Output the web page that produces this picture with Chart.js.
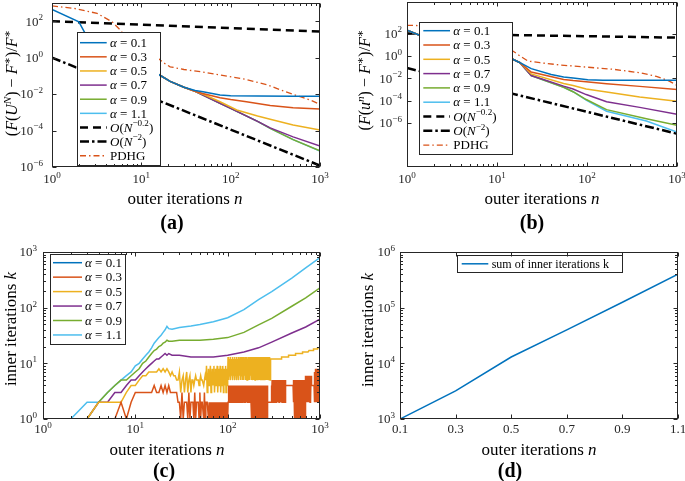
<!DOCTYPE html>
<html>
<head>
<meta charset="utf-8">
<script src="https://cdn.jsdelivr.net/npm/chart.js@4.4.1/dist/chart.umd.min.js"></script>
<style>
  html, body { margin: 0; padding: 0; background: #fff; overflow: hidden; }
  #wrap { position: relative; width: 685px; height: 481px; }
  canvas { position: absolute; left: 0; top: 0; }
</style>
</head>
<body>
<div id="wrap">
  <canvas id="ca" width="685" height="481"></canvas>
  <canvas id="cb" width="685" height="481"></canvas>
  <canvas id="cc" width="685" height="481"></canvas>
  <canvas id="cd" width="685" height="481"></canvas>
</div>
<script>
// ---------- data ----------
const alphaLabels = ['0.1', '0.3', '0.5', '0.7', '0.9', '1.1'];

// (a) relative error of U^N vs outer iterations
const aBlueN = [1, 2, 2.34, 3, 6, 10, 16, 21, 30, 40, 49, 76, 100, 200, 500, 1000];
const aBlue = [447, 93, 22.4, 6.3, 1.0, 0.32, 0.112, 0.050, 0.024, 0.0158, 0.0135, 0.0089, 0.0081, 0.0078, 0.0076, 0.0076];
const aRedN = [3, 6, 10, 16, 21, 30, 40, 50, 76, 100, 150, 277, 500, 1000];
const aRed = [6.3, 1.0, 0.32, 0.112, 0.050, 0.024, 0.0141, 0.0105, 0.0063, 0.0050, 0.0038, 0.0024, 0.0018, 0.0015];
const aYellowN = [3, 6, 10, 16, 21, 30, 40, 50, 76, 117, 200, 277, 500, 1000];
const aYellow = [6.3, 1.0, 0.32, 0.112, 0.050, 0.024, 0.0141, 0.0095, 0.0038, 0.00135, 6.3e-4, 4.2e-4, 2.0e-4, 1.07e-4];
const aLateN = [3, 6, 10, 16, 21, 30, 40, 76, 100, 200, 277, 500, 1000];
const aPurple = [6.3, 1.0, 0.32, 0.112, 0.050, 0.024, 0.0141, 0.00316, 0.00166, 3.16e-4, 1.41e-4, 4.5e-5, 1.41e-5];
const aGreen = [6.3, 1.0, 0.32, 0.112, 0.050, 0.024, 0.0141, 0.00316, 0.00166, 3.16e-4, 1.32e-4, 3.2e-5, 7.7e-6];
const aCyan = [6.3, 1.0, 0.32, 0.112, 0.050, 0.024, 0.0141, 0.00316, 0.00166, 3.16e-4, 1.32e-4, 3.16e-5, 7.6e-6];
const aRateN = [1, 1000];
const aSlow = [100, 27];
const aFast = [1, 1.2e-6];
const aPdhgN = [1, 1.75, 3.2, 4.7, 5.8, 6.9, 9, 12, 15.5, 18, 21, 30, 45.6, 76, 150, 260, 400, 600, 800, 1000];
const aPdhg = [692, 513, 269, 93.3, 33.1, 11.5, 3.16, 1.58, 0.89, 0.50, 0.316, 0.224, 0.17, 0.112, 0.063, 0.0316, 0.0141, 0.0072, 0.0045, 0.00275];

// (b) relative error of u^n vs outer iterations
const bBlueN = [1, 1.38, 2, 4, 8, 15, 18, 24, 40, 55, 70, 102, 150, 1000];
const bBlue = [200, 71, 15.8, 3.16, 1.26, 0.5, 0.25, 0.074, 0.0224, 0.0132, 0.0107, 0.0076, 0.0066, 0.0066];
const bRedN = [1, 1.38, 2, 4, 8, 15, 18, 24, 55, 70, 165, 385, 1000];
const bRed = [200, 71, 15.8, 3.16, 1.26, 0.5, 0.25, 0.036, 0.0079, 0.0063, 0.0033, 0.0019, 0.0010];
const bYellowN = [1, 1.38, 2, 4, 8, 15, 18, 24, 55, 70, 98, 165, 385, 1000];
const bYellow = [200, 71, 15.8, 3.16, 1.26, 0.5, 0.25, 0.025, 0.0035, 0.0023, 0.00112, 5.9e-4, 2.1e-4, 8.7e-5];
const bPurpleN = [1, 1.38, 2, 4, 8, 15, 18, 24, 55, 70, 98, 165, 385, 1000];
const bPurple = [200, 71, 15.8, 3.16, 1.26, 0.5, 0.25, 0.0178, 0.0020, 0.00112, 3.5e-4, 7.9e-5, 2.5e-5, 6.0e-6];
const bFastN = [1, 1.38, 2, 4, 8, 15, 18, 24, 55, 70, 98, 165, 457, 1000];
const bGreen = [200, 71, 15.8, 3.16, 1.26, 0.5, 0.25, 0.0178, 0.00158, 6.3e-4, 1.26e-4, 1.58e-5, 2.45e-6, 6.2e-7];
const bCyan = [200, 71, 15.8, 3.16, 1.26, 0.5, 0.25, 0.0178, 0.00158, 6.3e-4, 1.12e-4, 1.12e-5, 1.5e-6, 1.55e-7];
const bRateN = [1, 1000];
const bSlow = [105, 44];
const bFast = [0.083, 1.1e-7];
const bPdhgN = [1, 2, 4, 8, 12, 15, 18, 22, 30, 50, 100, 200, 385, 590, 800, 1000];
const bPdhg = [550, 500, 200, 31.6, 6.3, 2.8, 1.0, 0.355, 0.25, 0.158, 0.1, 0.063, 0.0316, 0.0151, 0.0063, 0.00234];

// (c) inner iterations per outer iteration
const cN = [1, 2, 3, 4, 5, 6, 7, 8, 9, 10, 11, 12, 13, 14, 15, 16, 17, 18, 19, 20, 21, 22, 23, 25, 30, 40, 50, 70, 100, 150, 216, 300, 495, 700, 1000];
const cBlueN = [1, 1000];
const cBlue = [1, 1];
const cPurple = [1, 1, 1, 2, 2, 3, 3, 4, 5, 5, 6, 7, 8, 9, 10, 11, 12, 12, 13, 14, 15, 14, 15, 14, 14, 13, 13, 13, 14, 16, 19, 24, 35, 45, 62];
const cGreen = [1, 1, 1, 2, 3, 4, 5, 5, 6, 7, 8, 10, 11, 13, 15, 17, 18, 20, 21, 23, 24, 26, 25, 25, 26, 26, 26, 27, 29, 36, 49, 64, 106, 150, 226];
const cCyan = [1, 1, 2, 2, 3, 4, 5, 6, 7, 9, 10, 12, 14, 16, 19, 23, 26, 29, 32, 36, 40, 46, 42, 41, 44, 47, 50, 56, 66, 92, 140, 195, 340, 520, 790];
// integer counts that flicker: [first n, last n, repeating values]
const cRedRuns = [
  [1, 6, [1]], [7, 7, [2]], [8, 8, [1]], [9, 9, [2]], [10, 15, [3]], [16, 16, [4]], [17, 18, [3]],
  [19, 19, [4]], [20, 20, [3]], [21, 21, [4]], [22, 22, [3]], [23, 23, [4]], [24, 28, [3]], [29, 29, [2]],
  [30, 60, [2, 1, 3, 1, 2, 2]], [61, 100, [2, 1]], [101, 180, [2, 4, 2, 3, 4, 2]], [181, 270, [2, 1, 2, 4]],
  [271, 300, [2]], [301, 420, [4, 2, 5, 2]], [421, 520, [4]], [521, 700, [2, 5, 4, 1, 4]],
  [701, 800, [4, 2, 6]], [801, 880, [4]], [881, 1000, [2, 7, 4, 8, 3, 5]]
];
const cYellowRuns = [
  [1, 3, [1]], [4, 7, [2]], [8, 8, [3]], [9, 10, [4]], [11, 11, [5]], [12, 13, [6]], [14, 17, [7]],
  [18, 18, [8]], [19, 19, [7]], [20, 20, [8]], [21, 21, [7]], [22, 22, [8]], [23, 23, [7]], [24, 24, [6]],
  [25, 25, [7]], [26, 27, [6]], [28, 29, [5]],
  [30, 40, [7, 3, 5, 6, 3, 5]], [41, 58, [5, 5, 4, 5, 6, 5]], [59, 100, [9, 3, 5, 8, 4, 6]],
  [101, 290, [13, 5, 11, 6, 12, 7]],
  [291, 380, [12]], [381, 460, [13]], [461, 540, [14]], [541, 640, [15]], [641, 760, [16]],
  [761, 860, [17]], [861, 940, [18]], [941, 1000, [19]]
];

// (d) total inner iterations per alpha
const dAlpha = [0.1, 0.3, 0.5, 0.7, 0.9, 1.1];
const dSum = [1000, 3200, 13000, 40000, 125000, 400000];

// ticks
const nTicks = [1, 10, 100, 1000];
const nTickExp = ['0', '1', '2', '3'];
const errTicks = [1e2, 1, 1e-2, 1e-4, 1e-6];
const errTickExp = ['2', '0', '\u22122', '\u22124', '\u22126'];
const kTicks = [1, 10, 100, 1000];
const kTickExp = ['0', '1', '2', '3'];
const dXTicks = [0.1, 0.3, 0.5, 0.7, 0.9, 1.1];
const dXText = ['0.1', '0.3', '0.5', '0.7', '0.9', '1.1'];
const dYTicks = [1e3, 1e4, 1e5, 1e6];
const dYExp = ['3', '4', '5', '6'];

// ---------- drawing helpers ----------
const SERIF = '"Liberation Serif", "DejaVu Serif", serif';
const INK = '#262626';
const COL = { blue: '#0072BD', red: '#D95319', yellow: '#EDB120', purple: '#7E2F8E', green: '#77AC30', cyan: '#4DBEEE' };
const DASH = [8, 5];
const DASHDOT = [9, 3, 2.5, 3];
const PDHGDASH = [6, 3, 1.5, 3];

function drawRich(ctx, parts, x, y, size, align) {
  const items = parts.map(([t, s]) => {
    const sup = s.indexOf('sup') >= 0;
    const sz = sup ? size * 0.7 : size;
    const font = (s[0] === 'i' ? 'italic ' : '') + (s === 'b' ? 'bold ' : '') + sz + 'px ' + SERIF;
    ctx.font = font;
    return { t, font, w: ctx.measureText(t).width, dy: sup ? -size * 0.42 : 0 };
  });
  const total = items.reduce((acc, p) => acc + p.w, 0);
  let cx = align === 'center' ? x - total / 2 : align === 'right' ? x - total : x;
  ctx.textAlign = 'left';
  ctx.textBaseline = 'alphabetic';
  items.forEach(p => { ctx.font = p.font; ctx.fillText(p.t, cx, y + p.dy); cx += p.w; });
}

function logMinor(min, max) {
  const out = [];
  for (let d = Math.floor(Math.log10(min)); d <= Math.ceil(Math.log10(max)); d++) {
    for (let m = 2; m <= 9; m++) {
      const v = m * Math.pow(10, d);
      if (v > min && v < max) out.push(v);
    }
  }
  return out;
}

const pow10 = exps => exps.map(e => [['10', ''], [e, 'sup']]);
const alphaParts = alphaLabels.map(a => [['\u03b1', 'i'], [' = ' + a, '']]);
const slowParts = [['O', 'i'], ['(', ''], ['N', 'i'], ['\u22120.2', 'sup'], [')', '']];
const fastParts = [['O', 'i'], ['(', ''], ['N', 'i'], ['\u22122', 'sup'], [')', '']];
const outerTitle = [['outer iterations ', ''], ['n', 'i']];
const innerTitle = [['inner iterations ', ''], ['k', 'i']];

function drawLegend(ctx, chart, lg) {
  const [x, y, w, h] = lg.box;
  ctx.fillStyle = '#fff';
  ctx.fillRect(x, y, w, h);
  ctx.strokeStyle = INK;
  ctx.lineWidth = 1;
  ctx.setLineDash([]);
  ctx.strokeRect(Math.round(x) + 0.5, Math.round(y) + 0.5, Math.round(w), Math.round(h));
  lg.labels.forEach((parts, i) => {
    const ds = chart.data.datasets[i];
    const yy = lg.y0 + i * lg.dy;
    ctx.save();
    ctx.strokeStyle = ds.borderColor;
    ctx.lineWidth = ds.borderWidth;
    ctx.setLineDash(ds.borderDash || []);
    ctx.beginPath();
    ctx.moveTo(lg.x0, yy);
    ctx.lineTo(lg.x1, yy);
    ctx.stroke();
    ctx.restore();
    ctx.fillStyle = '#000';
    drawRich(ctx, parts, lg.tx, yy + lg.size * 0.33, lg.size, 'left');
  });
}

const panels = {
  ca: {
    xMajor: nTicks, xMinor: logMinor(1, 1000), yMajor: errTicks, yMinor: [],
    xLabels: nTicks.map((v, i) => [v, pow10(nTickExp)[i]]), xDy: 16,
    yLabels: errTicks.map((v, i) => [v, pow10(errTickExp)[i]]), yGap: 9,
    xTitle: { parts: outerTitle, x: 185, y: 204 },
    yTitle: { parts: [['(', ''], ['F', 'i'], ['(', ''], ['U', 'i'], ['N', 'isup'], [')', ''], [' \u2212 ', ''], ['F', 'i'], ['\u2217', 'sup'], [')/', ''], ['F', 'i'], ['\u2217', 'sup']], x: 12, y: 83, size: 16 },
    tag: { text: '(a)', x: 172, y: 229 },
    legend: { box: [76.5, 32, 82.5, 133], x0: 80, x1: 106.7, tx: 110, y0: 42.7, dy: 14.13, size: 13,
      labels: alphaParts.concat([slowParts, fastParts, [['PDHG', '']]]) }
  },
  cb: {
    xMajor: nTicks, xMinor: logMinor(1, 1000), yMajor: errTicks, yMinor: [],
    xLabels: nTicks.map((v, i) => [v, pow10(nTickExp)[i]]), xDy: 16,
    yLabels: errTicks.map((v, i) => [v, pow10(errTickExp)[i]]), yGap: 5,
    xTitle: { parts: outerTitle, x: 542, y: 204 },
    yTitle: { parts: [['(', ''], ['F', 'i'], ['(', ''], ['u', 'i'], ['n', 'isup'], [')', ''], [' \u2212 ', ''], ['F', 'i'], ['\u2217', 'sup'], [')/', ''], ['F', 'i'], ['\u2217', 'sup']], x: 365, y: 80, size: 16 },
    tag: { text: '(b)', x: 532, y: 229 },
    legend: { box: [419.3, 22.3, 93.4, 132], x0: 423.3, x1: 450, tx: 453.3, y0: 30.7, dy: 14.3, size: 13,
      labels: alphaParts.concat([slowParts, fastParts, [['PDHG', '']]]) }
  },
  cc: {
    xMajor: nTicks, xMinor: logMinor(1, 1000), yMajor: kTicks, yMinor: logMinor(1, 1000),
    xLabels: nTicks.map((v, i) => [v, pow10(nTickExp)[i]]), xDy: 14,
    yLabels: kTicks.map((v, i) => [v, pow10(kTickExp)[i]]), yGap: 6,
    xTitle: { parts: outerTitle, x: 167, y: 455 },
    yTitle: { parts: innerTitle, x: 10, y: 329, size: 17 },
    tag: { text: '(c)', x: 164, y: 477 },
    legend: { box: [50, 254, 75, 90], x0: 53, x1: 82, tx: 85, y0: 262.7, dy: 14.45, size: 13, labels: alphaParts }
  },
  cd: {
    xMajor: dXTicks, xMinor: [], yMajor: dYTicks, yMinor: logMinor(1e3, 1e6),
    xLabels: dXTicks.map((v, i) => [v, [[dXText[i], '']]]), xDy: 14,
    yLabels: dYTicks.map((v, i) => [v, pow10(dYExp)[i]]), yGap: 5,
    xTitle: { parts: outerTitle, x: 539, y: 455 },
    yTitle: { parts: innerTitle, x: 367, y: 330, size: 17 },
    tag: { text: '(d)', x: 510, y: 477 },
    legend: { box: [456.7, 255, 165, 17.3], x0: 461.7, x1: 488.3, tx: 491.7, y0: 263.8, dy: 0, size: 12,
      labels: [[['sum of inner iterations k', '']]] }
  }
};

const figPlugin = {
  id: 'fig',
  afterDatasetsDraw(chart) {
    const o = panels[chart.canvas.id];
    const ctx = chart.ctx, a = chart.chartArea, xs = chart.scales.x, ys = chart.scales.y;
    ctx.save();
    drawLegend(ctx, chart, o.legend);
    const L = Math.round(a.left) + 0.5, R = Math.round(a.right) - 0.5;
    const T = Math.round(a.top) + 0.5, B = Math.round(a.bottom) - 0.5;
    ctx.strokeStyle = INK;
    ctx.lineWidth = 1;
    ctx.setLineDash([]);
    ctx.beginPath();
    const xt = (v, len) => {
      const p = Math.round(xs.getPixelForValue(v)) + 0.5;
      ctx.moveTo(p, B); ctx.lineTo(p, B - len);
      ctx.moveTo(p, T); ctx.lineTo(p, T + len);
    };
    const yt = (v, len) => {
      const p = Math.round(ys.getPixelForValue(v)) + 0.5;
      ctx.moveTo(L, p); ctx.lineTo(L + len, p);
      ctx.moveTo(R, p); ctx.lineTo(R - len, p);
    };
    o.xMajor.forEach(v => xt(v, 4));
    o.xMinor.forEach(v => xt(v, 2.5));
    o.yMajor.forEach(v => yt(v, 4));
    o.yMinor.forEach(v => yt(v, 2.5));
    ctx.stroke();
    ctx.strokeRect(L, T, R - L, B - T);

    ctx.fillStyle = INK;
    o.xLabels.forEach(([v, parts]) => drawRich(ctx, parts, xs.getPixelForValue(v), a.bottom + o.xDy, 13, 'center'));
    o.yLabels.forEach(([v, parts]) => drawRich(ctx, parts, a.left - o.yGap, ys.getPixelForValue(v) + 4.3, 13, 'right'));

    ctx.fillStyle = '#000';
    drawRich(ctx, o.xTitle.parts, o.xTitle.x, o.xTitle.y, 17, 'center');
    ctx.save();
    ctx.translate(o.yTitle.x, o.yTitle.y);
    ctx.rotate(-Math.PI / 2);
    drawRich(ctx, o.yTitle.parts, 0, o.yTitle.size * 0.33, o.yTitle.size, 'center');
    ctx.restore();
    drawRich(ctx, [[o.tag.text, 'b']], o.tag.x, o.tag.y, 20, 'center');
    ctx.restore();
  }
};

// ---------- charts ----------
function pts(ns, vs) { return ns.map((n, i) => ({ x: n, y: vs[i] })); }
function runPts(runs) {
  const out = [];
  runs.forEach(([from, to, cyc]) => {
    for (let n = from; n <= to; n++) out.push({ x: n, y: cyc[(n - from) % cyc.length] });
  });
  return out;
}
function line(data, color, width, dash) {
  return { data, borderColor: color, borderWidth: width, borderDash: dash || [], pointRadius: 0, fill: false, tension: 0 };
}

function makeChart(id, datasets, box, xScale, yScale) {
  return new Chart(document.getElementById(id), {
    type: 'line',
    data: { datasets },
    options: {
      responsive: false,
      animation: false,
      events: [],
      layout: { padding: { left: box[0], top: box[1], right: 685 - box[2], bottom: 481 - box[3] } },
      scales: { x: Object.assign({ display: false }, xScale), y: Object.assign({ display: false }, yScale) },
      plugins: { legend: { display: false }, tooltip: { enabled: false } }
    },
    plugins: [figPlugin]
  });
}

makeChart('ca', [
  line(pts(aBlueN, aBlue), COL.blue, 1.5),
  line(pts(aRedN, aRed), COL.red, 1.5),
  line(pts(aYellowN, aYellow), COL.yellow, 1.5),
  line(pts(aLateN, aPurple), COL.purple, 1.5),
  line(pts(aLateN, aGreen), COL.green, 1.5),
  line(pts(aLateN, aCyan), COL.cyan, 1.5),
  line(pts(aRateN, aSlow), '#000', 2.5, DASH),
  line(pts(aRateN, aFast), '#000', 2.5, DASHDOT),
  line(pts(aPdhgN, aPdhg), COL.red, 1.3, PDHGDASH)
], [52, 3, 320, 167], { type: 'logarithmic', min: 1, max: 1000 }, { type: 'logarithmic', min: 1e-6, max: 1e3 });

makeChart('cb', [
  line(pts(bBlueN, bBlue), COL.blue, 1.5),
  line(pts(bRedN, bRed), COL.red, 1.5),
  line(pts(bYellowN, bYellow), COL.yellow, 1.5),
  line(pts(bPurpleN, bPurple), COL.purple, 1.5),
  line(pts(bFastN, bGreen), COL.green, 1.5),
  line(pts(bFastN, bCyan), COL.cyan, 1.5),
  line(pts(bRateN, bSlow), '#000', 2.5, DASH),
  line(pts(bRateN, bFast), '#000', 2.5, DASHDOT),
  line(pts(bPdhgN, bPdhg), COL.red, 1.3, PDHGDASH)
], [407, 2, 677, 167], { type: 'logarithmic', min: 1, max: 1000 }, { type: 'logarithmic', min: 1.15e-10, max: 6.8e4 });

makeChart('cc', [
  line(pts(cBlueN, cBlue), COL.blue, 1.5),
  line(runPts(cRedRuns), COL.red, 1.5),
  line(runPts(cYellowRuns), COL.yellow, 1.5),
  line(pts(cN, cPurple), COL.purple, 1.5),
  line(pts(cN, cGreen), COL.green, 1.5),
  line(pts(cN, cCyan), COL.cyan, 1.5)
], [43, 252, 320, 419], { type: 'logarithmic', min: 1, max: 1000 }, { type: 'logarithmic', min: 1, max: 1000 });

makeChart('cd', [
  line(pts(dAlpha, dSum), COL.blue, 1.5)
], [400, 252, 678, 419], { type: 'linear', min: 0.1, max: 1.1 }, { type: 'logarithmic', min: 1e3, max: 1e6 });
</script>
</body>
</html>
